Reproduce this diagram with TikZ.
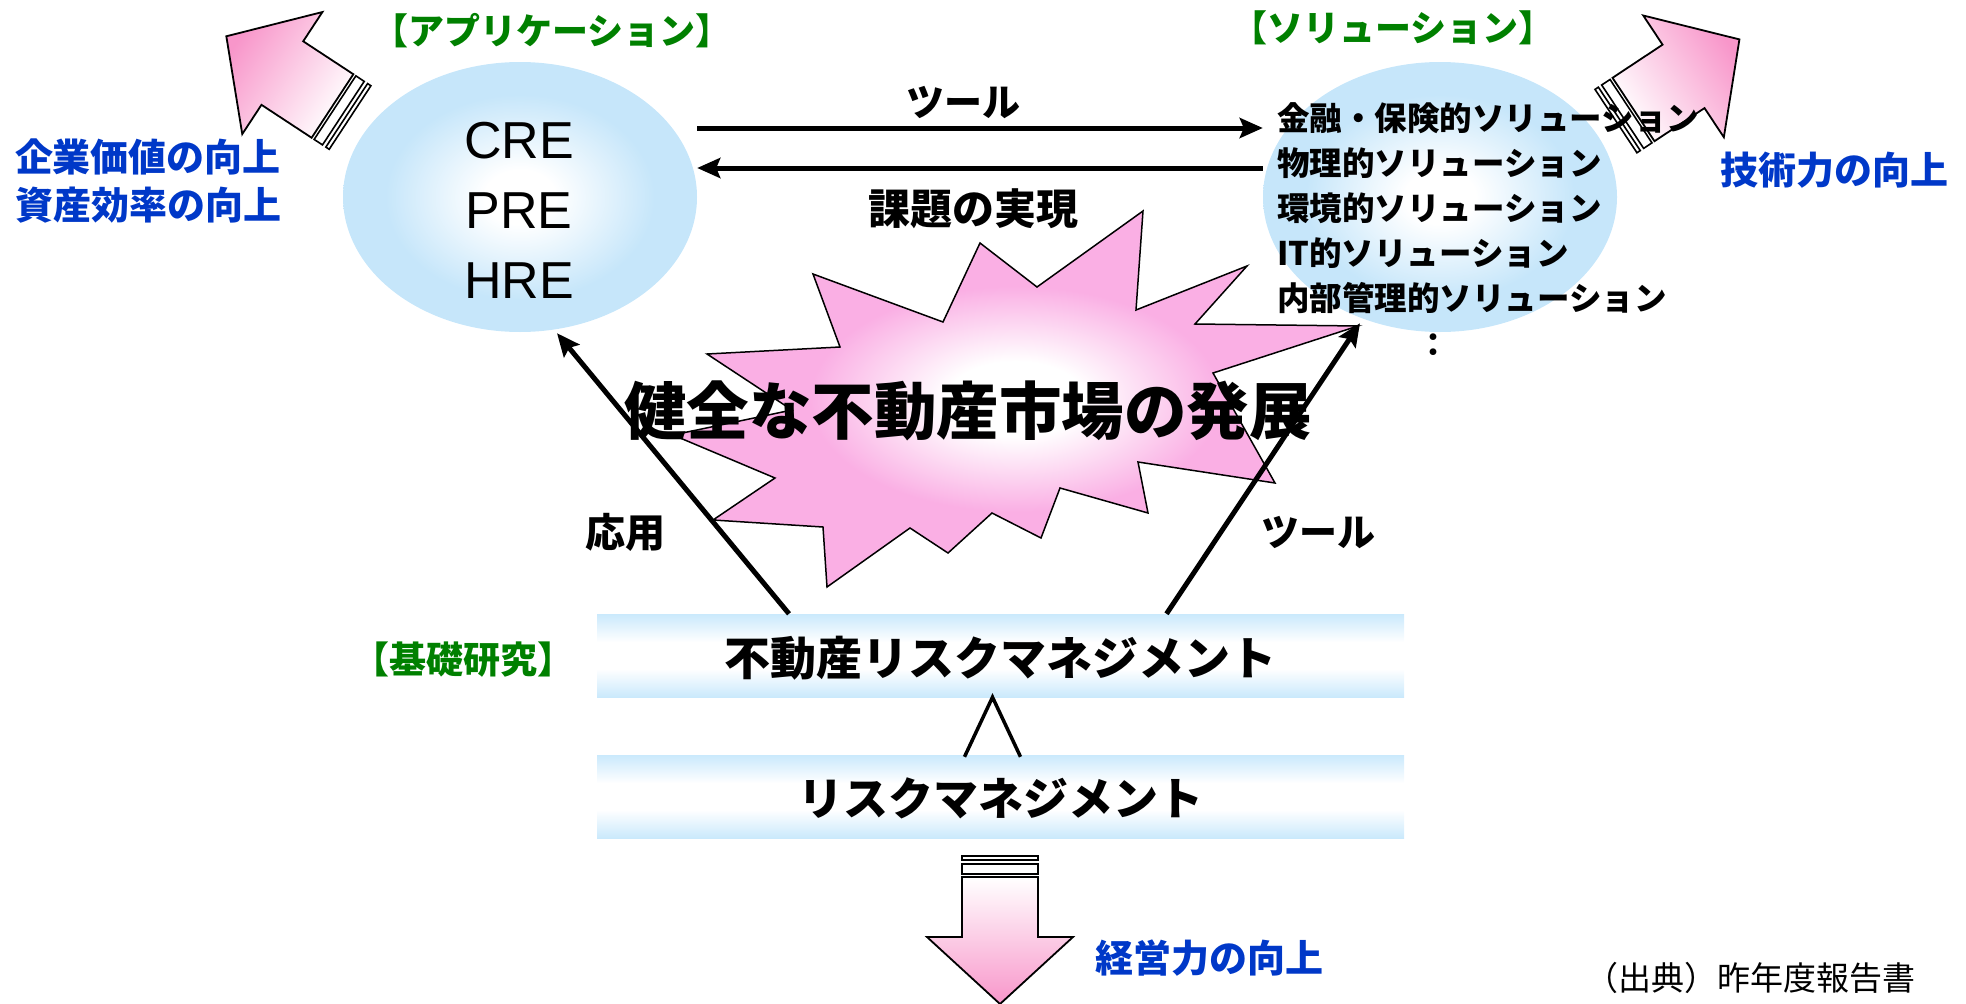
\documentclass[tikz,border=0pt]{standalone}
\usepackage{fontspec}
\setmainfont{Liberation Sans}
\newfontfamily\jp{Noto Sans CJK JP}
\usetikzlibrary{shapes.geometric,arrows.meta}
\definecolor{ellblue}{RGB}{198,230,250}
\definecolor{boxblue}{RGB}{202,233,252}
\definecolor{pinkc}{RGB}{248,150,202}
\definecolor{burstpink}{RGB}{250,175,228}
\definecolor{grn}{RGB}{0,128,0}
\definecolor{blu}{RGB}{0,56,200}
\pgfdeclareradialshading{ellsh}{\pgfpoint{0bp}{0bp}}{color(0bp)=(white); color(5bp)=(white); color(19bp)=(ellblue); color(50bp)=(ellblue)}
\pgfdeclareradialshading{burstsh}{\pgfpoint{0bp}{0bp}}{color(0bp)=(white); color(5bp)=(white); color(15bp)=(burstpink); color(50bp)=(burstpink)}
\pgfdeclareverticalshading{boxsh}{100bp}{color(0bp)=(boxblue); color(25bp)=(boxblue); color(42bp)=(white); color(58bp)=(white); color(75bp)=(boxblue); color(100bp)=(boxblue)}
\tikzset{
  conn/.style={line width=5pt, -{Stealth[length=23pt,width=20pt,inset=4pt]}},
  jpb/.style={font={\jp\bfseries\fontsize{#1}{#1}\selectfont}, inner sep=0pt},
  ellst/.style={ellipse, minimum width=354pt, minimum height=270pt, inner sep=0pt, shade, shading=ellsh},
  boxst/.style={rectangle, minimum width=807pt, minimum height=83pt, inner sep=0pt, shade, shading=boxsh},
  bigarrow/.style={draw=black, line width=1.8pt, line join=miter},
  stripe/.style={draw=black, fill=white, line width=1.6pt}
}
\begin{document}
\begin{tikzpicture}[x=1pt, y=-1pt]
\useasboundingbox (0,0) rectangle (1966,1004);
% ellipses
\node[ellst] (app) at (520,197) {};
\node[ellst] (sol) at (1440,197) {};
% boxes
\node[boxst, jpb=46, text depth=-4pt] (frm) at (1000.5,655.5) {不動産リスクマネジメント};
\node[boxst, jpb=45, text depth=-4pt] (rm) at (1000.5,796.5) {リスクマネジメント};
% burst
\shade[draw=black, line width=1.5pt, line join=miter, shading=burstsh]
  (1143,211) -- (1136,310) -- (1247,266) -- (1195,324) -- (1358,326) -- (1213,373)
  -- (1275,483) -- (1138,462) -- (1148,513) -- (1060,488) -- (1041,538) -- (992,513)
  -- (948,553) -- (910,528) -- (827,587) -- (823,527) -- (713,520) -- (775,478)
  -- (673,435) -- (792,410) -- (707,354) -- (840,347) -- (813,274) -- (943,322)
  -- (980,243) -- (1037,287) -- cycle;
% connectors
\coordinate (ya) at (0,128);
\coordinate (yb) at (0,168);
\draw[conn] (app.east |- ya) -- (sol.west |- ya);
\draw[conn] (sol.west |- yb) -- (app.east |- yb);
\draw[conn] ([xshift=-211.5pt]frm.north) -- ([xshift=37pt,yshift=-1pt]app.south);
\draw[conn] ([xshift=166pt]frm.north) -- ([xshift=-80pt,yshift=9pt]sol.south);
\draw[line width=3.5pt, line join=miter] ([xshift=-36pt,yshift=-2pt]rm.north) -- ([xshift=-8pt]frm.south) -- ([xshift=20pt,yshift=-2pt]rm.north);
% big arrows
\begin{scope}[shift={(332.5,106)}, x={(-0.836pt,0.549pt)}, y={(0.549pt,0.836pt)}]
  \shade[bigarrow, top color=pinkc, bottom color=white, shading angle=56.7]
    (0,38) -- (60,38) -- (60,73) -- (127,0) -- (60,-73) -- (60,-38) -- (0,-38) -- cycle;
  \draw[stripe] (-3,38) -- (-13,38) -- (-13,-38) -- (-3,-38) -- cycle;
  \draw[stripe] (-17,38) -- (-21,38) -- (-21,-38) -- (-17,-38) -- cycle;
\end{scope}
\begin{scope}[shift={(1633.5,109.5)}, x={(0.834pt,0.552pt)}, y={(-0.552pt,0.834pt)}]
  \shade[bigarrow, top color=pinkc, bottom color=white, shading angle=-56.5]
    (0,38) -- (60,38) -- (60,73) -- (127,0) -- (60,-73) -- (60,-38) -- (0,-38) -- cycle;
  \draw[stripe] (-3,38) -- (-13,38) -- (-13,-38) -- (-3,-38) -- cycle;
  \draw[stripe] (-17,38) -- (-21,38) -- (-21,-38) -- (-17,-38) -- cycle;
\end{scope}
\begin{scope}[shift={(1000,877)}, x={(0pt,-1pt)}, y={(1pt,0pt)}]
  \shade[bigarrow, top color=white, bottom color=pinkc]
    (0,38) -- (60,38) -- (60,73) -- (127,0) -- (60,-73) -- (60,-38) -- (0,-38) -- cycle;
  \draw[stripe] (-3,38) -- (-13,38) -- (-13,-38) -- (-3,-38) -- cycle;
  \draw[stripe] (-17,38) -- (-21,38) -- (-21,-38) -- (-17,-38) -- cycle;
\end{scope}
% texts
\node[font=\fontsize{52}{70}\selectfont, align=center, inner sep=0pt] (apptxt) at (519,210) {CRE\\PRE\\HRE};
\node[font={\jp\bfseries\fontsize{32.5}{45}\selectfont}, align=left, anchor=west, inner sep=0pt] (soltxt) at (1277,208)
  {金融・保険的ソリューション\\物理的ソリューション\\環境的ソリューション\\IT的ソリューション\\内部管理的ソリューション};
\node[jpb=32] (dots) at (1433,345) {：};
\node[jpb=36, text=grn] (lapp) at (552,31) {【アプリケーション】};
\node[jpb=36, text=grn] (lsol) at (1393,28) {【ソリューション】};
\node[jpb=37, text=grn] (lkiso) at (463,660) {【基礎研究】};
\node[jpb=38, text=blu] (b1) at (148,157) {企業価値の向上};
\node[jpb=38, text=blu] (b2) at (148.5,205) {資産効率の向上};
\node[jpb=38, text=blu] (b3) at (1834,170) {技術力の向上};
\node[jpb=38, text=blu] (b4) at (1209,958) {経営力の向上};
\node[jpb=38] (t1) at (963,103) {ツール};
\node[jpb=42] (t2) at (973,209) {課題の実現};
\node[jpb=40] (t3) at (625,532) {応用};
\node[jpb=38] (t4) at (1318,533) {ツール};
\node[jpb=62.5] (main) at (968,411) {健全な不動産市場の発展};
\node[font={\jp\fontsize{33}{33}\selectfont}, inner sep=0pt] (src) at (1750,978) {（出典）昨年度報告書};
\end{tikzpicture}
\end{document}
